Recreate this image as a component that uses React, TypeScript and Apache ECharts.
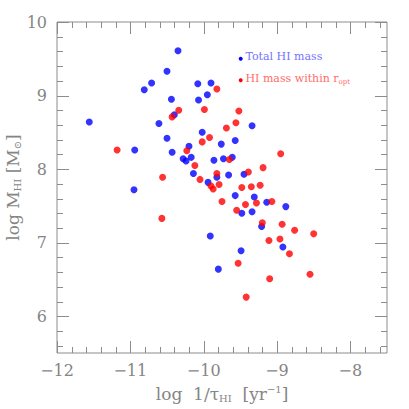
import React, { useEffect, useRef } from "react";
import * as echarts from "echarts";

// Tick labels
const xTicks = [-12, -11, -10, -9, -8];
const yTicks = [6, 7, 8, 9, 10];

// Total HI mass (blue): [log 1/tau, log M]
const totalHI: [number, number][] = [
  [-11.56, 8.64], [-10.94, 8.26], [-10.95, 7.72], [-10.81, 9.08], [-10.71, 9.17],
  [-10.5, 9.33], [-10.35, 9.61], [-10.44, 8.95], [-10.4, 8.74], [-10.61, 8.62],
  [-10.5, 8.42], [-10.43, 8.23], [-10.2, 8.31], [-10.28, 8.14], [-10.24, 8.11],
  [-10.17, 8.16], [-10.14, 7.94], [-10.08, 9.16], [-10.07, 8.94], [-10.02, 8.5],
  [-9.9, 9.17], [-9.95, 9.01], [-9.34, 8.59], [-9.57, 8.39], [-9.76, 8.34],
  [-9.86, 8.12], [-9.73, 8.14], [-9.61, 8.16], [-9.82, 7.89], [-9.66, 7.92],
  [-9.45, 7.93], [-9.94, 7.82], [-9.57, 7.64], [-9.31, 7.62], [-9.14, 7.55],
  [-8.88, 7.49], [-9.48, 7.4], [-9.34, 7.42], [-9.21, 7.22], [-9.91, 7.09],
  [-8.92, 6.94], [-9.49, 6.89], [-9.8, 6.64],
];

// HI mass within r_opt (red)
const withinOpt: [number, number][] = [
  [-11.18, 8.26], [-10.56, 7.89], [-10.57, 7.33], [-10.43, 8.71], [-10.34, 8.8],
  [-10.23, 8.25], [-10.12, 8.05], [-10.05, 7.86], [-10.02, 8.37], [-9.99, 8.81],
  [-9.92, 8.43], [-9.82, 9.09], [-9.52, 8.79], [-9.56, 8.63], [-9.69, 8.56],
  [-9.65, 8.13], [-9.19, 8.02], [-8.95, 8.21], [-9.82, 7.94], [-9.39, 7.96],
  [-9.9, 7.77], [-9.87, 7.73], [-9.79, 7.79], [-9.48, 7.75], [-9.35, 7.76],
  [-9.23, 7.78], [-9.75, 7.56], [-9.43, 7.52], [-9.28, 7.54], [-9.07, 7.56],
  [-9.55, 7.44], [-9.2, 7.27], [-8.93, 7.25], [-8.76, 7.17], [-8.5, 7.12],
  [-9.11, 7.03], [-8.96, 7.05], [-8.83, 6.85], [-9.53, 6.72], [-8.55, 6.57],
  [-9.1, 6.51], [-9.42, 6.26],
];

const X_MIN = -12, X_MAX = -7.5, Y_MIN = 5.5, Y_MAX = 10;
const MINOR = 0.2;
const MAJOR_LEN = 12;
const MINOR_LEN = 6;

// plot frame in pixels
const L = 57, T = 22, W = 330, H = 331;
const PX_X = W / (X_MAX - X_MIN);
const PX_Y = H / (Y_MAX - Y_MIN);

const AXIS_COLOR = "#8c8c8c";
const LABEL_COLOR = "#858585";
const FONT = "DejaVu Serif";

const fmt = (v: number) => (v < 0 ? "\u2212" + Math.abs(v) : String(v));

function minorValues(lo: number, hi: number, majors: number[]) {
  const out: number[] = [];
  const start = Math.ceil(lo / MINOR - 1e-9);
  for (let i = start; i * MINOR <= hi + 1e-9; i++) {
    const v = Math.round(i * MINOR * 10) / 10;
    if (!majors.includes(v) && v > lo && v < hi) out.push(v);
  }
  return out;
}

const hidden = (gridIndex: number, min: number, max: number) => ({
  type: "value" as const,
  gridIndex,
  min,
  max,
  show: false,
});

export default function App() {
  const ref = useRef<HTMLDivElement>(null);
  useEffect(() => {
    if (!ref.current) return;
    const chart = echarts.init(ref.current, null, { renderer: "svg" });

    const labelAxis = (gridIndex: number, pos: string, min: number, max: number, margin: number) => ({
      type: "value" as const,
      gridIndex,
      position: pos,
      min,
      max,
      interval: 1,
      splitLine: { show: false },
      axisLine: { show: false, onZero: false },
      axisTick: { show: false },
      axisLabel: {
        show: true,
        formatter: fmt,
        color: LABEL_COLOR,
        fontSize: 16,
        fontFamily: FONT,
        margin,
        showMinLabel: true,
        showMaxLabel: true,
      },
    });

    const xMajW = (xTicks[xTicks.length - 1] - X_MIN) * PX_X;
    const yMajH = (Y_MAX - yTicks[0]) * PX_Y;

    chart.setOption({
      animation: false,
      backgroundColor: "#ffffff",
      grid: [
        { left: L, top: T, width: W, height: H, show: true, borderColor: AXIS_COLOR, borderWidth: 1, backgroundColor: "transparent", outerBoundsMode: "none", containLabel: false },
        { left: L, top: T, width: xMajW, height: H, outerBoundsMode: "none", containLabel: false },
        { left: L, top: T, width: W, height: yMajH, outerBoundsMode: "none", containLabel: false },
      ],
      xAxis: [
        {
          type: "value",
          gridIndex: 0,
          min: X_MIN,
          max: X_MAX,
          splitLine: { show: false },
          axisLine: { show: false, onZero: false },
          axisTick: { show: false },
          axisLabel: { show: false },
        },
        labelAxis(1, "bottom", X_MIN, xTicks[xTicks.length - 1], 9),
        hidden(2, X_MIN, X_MAX),
      ],
      yAxis: [
        {
          type: "value",
          gridIndex: 0,
          min: Y_MIN,
          max: Y_MAX,
          splitLine: { show: false },
          axisLine: { show: false, onZero: false },
          axisTick: { show: false },
          axisLabel: { show: false },
        },
        hidden(1, Y_MIN, Y_MAX),
        labelAxis(2, "left", yTicks[0], Y_MAX, 10),
      ],
      series: [
        {
          name: "Total HI mass",
          type: "scatter",
          xAxisIndex: 0,
          yAxisIndex: 0,
          data: totalHI,
          symbol: "circle",
          symbolSize: 7,
          itemStyle: { color: "#0000ff" },
          z: 2,
        },
        {
          name: "HI mass within r_opt",
          type: "scatter",
          xAxisIndex: 0,
          yAxisIndex: 0,
          data: withinOpt,
          symbol: "circle",
          symbolSize: 7,
          itemStyle: { color: "#ff0000" },
          z: 3,
        },
      ],
    });

    // Tick marks on all four sides, placed through the chart's own scales
    const toPx = (v: [number, number]) => chart.convertToPixel({ gridIndex: 0 }, v) as number[];
    const ticks: any[] = [];
    const bar = (x: number, y: number, w: number, h: number) => ({
      type: "rect",
      silent: true,
      z: 10,
      shape: { x, y, width: w, height: h },
      style: { fill: AXIS_COLOR, stroke: null },
    });
    const xAll = [
      ...xTicks.map((v) => [v, MAJOR_LEN]),
      ...minorValues(X_MIN, X_MAX, xTicks).map((v) => [v, MINOR_LEN]),
    ];
    const yAll = [
      ...yTicks.map((v) => [v, MAJOR_LEN]),
      ...minorValues(Y_MIN, Y_MAX, yTicks).map((v) => [v, MINOR_LEN]),
    ];
    xAll.forEach(([v, len]) => {
      const b = toPx([v, Y_MIN]);
      const t = toPx([v, Y_MAX]);
      const x = Math.round(b[0]);
      ticks.push(bar(x, b[1] - len, 1, len));
      ticks.push(bar(x, t[1], 1, len));
    });
    yAll.forEach(([v, len]) => {
      const l = toPx([X_MIN, v]);
      const r = toPx([X_MAX, v]);
      const y = Math.round(l[1]);
      ticks.push(bar(l[0], y, len, 1));
      ticks.push(bar(r[0] - len, y, len, 1));
    });

    const c0 = toPx([X_MIN, Y_MIN]);
    const c1 = toPx([X_MAX, Y_MAX]);
    const cx = (c0[0] + c1[0]) / 2;
    const cy = (c0[1] + c1[1]) / 2;

    const titleRich = {
      sub: { fontSize: 10, fontFamily: FONT, fill: LABEL_COLOR, padding: [9, 0, 0, 0] },
      sup: { fontSize: 10, fontFamily: FONT, fill: LABEL_COLOR, padding: [0, 0, 9, 0] },
    };

    chart.setOption({
      graphic: [
        ...ticks,
        {
          type: "text",
          x: cx,
          y: 394,
          style: {
            text: "log  1/\u03c4{sub|HI}  [yr{sup|\u22121}]",
            fill: LABEL_COLOR,
            font: "17px " + FONT,
            align: "center",
            verticalAlign: "middle",
            rich: titleRich,
          },
        },
        {
          type: "text",
          x: 13,
          y: cy,
          rotation: Math.PI / 2,
          style: {
            text: "log M{sub|HI} [M{sub|\u2299}]",
            fill: LABEL_COLOR,
            font: "17px " + FONT,
            align: "center",
            verticalAlign: "middle",
            rich: titleRich,
          },
        },
        { type: "circle", shape: { cx: 240.7, cy: 58.7, r: 2 }, style: { fill: "#0000ff" } },
        {
          type: "text",
          x: 245.5,
          y: 56,
          style: {
            text: "Total HI mass",
            fill: "#7373ff",
            font: "11px " + FONT,
            verticalAlign: "middle",
          },
        },
        { type: "circle", shape: { cx: 240.7, cy: 80.3, r: 2 }, style: { fill: "#ff0000" } },
        {
          type: "text",
          x: 245.5,
          y: 78,
          style: {
            text: "HI mass within r{s|opt}",
            fill: "#ff6b6b",
            font: "11px " + FONT,
            verticalAlign: "middle",
            rich: { s: { fontSize: 7, fontFamily: FONT, fill: "#ff6b6b", padding: [7, 0, 0, 0] } },
          },
        },
      ],
    });
    return () => chart.dispose();
  }, []);
  return (
    <div
      ref={ref}
      style={{ position: "fixed", left: 0, top: 0, width: 409, height: 409, background: "#fff" }}
    />
  );
}
